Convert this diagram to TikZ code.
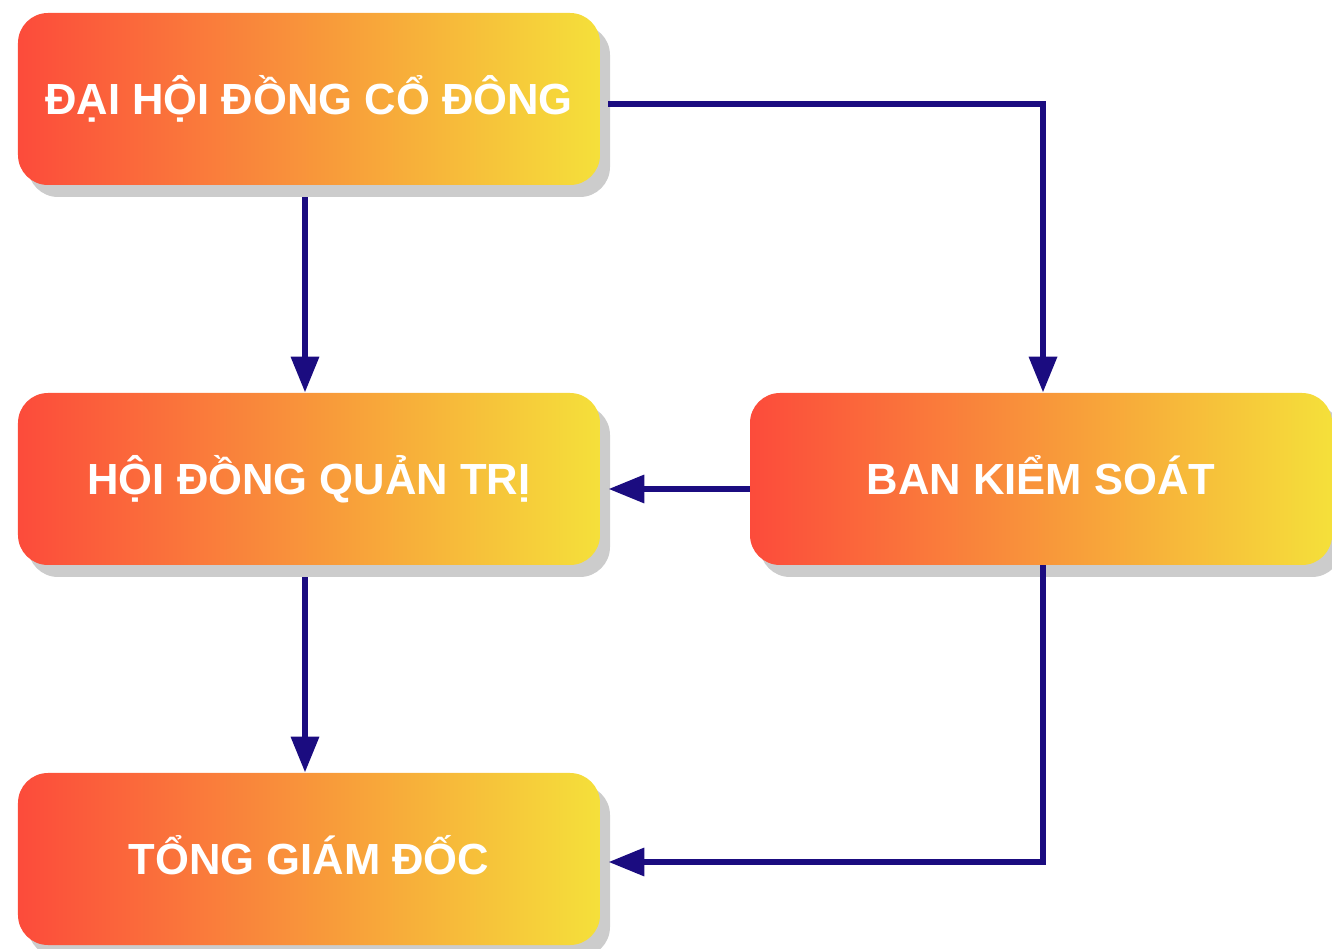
\documentclass[tikz,border=0pt]{standalone}
\usepackage{fontspec}
\setmainfont{Liberation Sans}
\usepackage{tikz}
\usetikzlibrary{arrows.meta, positioning, calc, shadows}
\definecolor{orgred}{HTML}{FC4B3B}
\definecolor{orgorange}{HTML}{F8A23C}
\definecolor{orgyellow}{HTML}{F5E03A}
\definecolor{orgnavy}{HTML}{1B0C80}
\definecolor{orgshadow}{HTML}{CCCCCC}

\tikzset{
  orgbox/.style={rounded corners=0.6cm, minimum width=11.64cm, minimum height=3.44cm, inner sep=0pt,
    text height=0.62cm, text depth=0pt,
    left color=orgred, middle color=orgorange, right color=orgyellow,
    drop shadow={shadow xshift=0.2cm, shadow yshift=-0.24cm, fill=orgshadow, opacity=1},
    text=white, font=\fontsize{24.8}{24.8}\selectfont\bfseries},
  link/.style={orgnavy, line width=0.13cm, -{Triangle[length=0.72cm, width=0.54cm]}}
}

\begin{document}
\begin{tikzpicture}
  \useasboundingbox (0,0) rectangle (26.64,18.96);

  % Boxes
  \node[orgbox] (dhdcd) at (6.18, 16.98) {ĐẠI HỘI ĐỒNG CỔ ĐÔNG};
  \node[orgbox] (hdqt) at (6.18, 9.38) {HỘI ĐỒNG QUẢN TRỊ};
  \node[orgbox] (tgd) at (6.18, 1.78) {TỔNG GIÁM ĐỐC};
  \node[orgbox] (bks) at (20.82, 9.38) {BAN KIỂM SOÁT};

  % Connectors
  \draw[link] ([xshift=0.16cm, yshift=-0.1cm]dhdcd.east) -| ([xshift=0.04cm]bks.north);
  \draw[link] ([xshift=-0.08cm, yshift=-0.24cm]dhdcd.south) -- ([xshift=-0.08cm]hdqt.north);
  \draw[link] ([yshift=-0.2cm]bks.west) -- ([xshift=0.16cm, yshift=-0.2cm]hdqt.east);
  \draw[link] ([xshift=-0.08cm, yshift=-0.24cm]hdqt.south) -- ([xshift=-0.08cm]tgd.north);
  \draw[link] ([xshift=0.04cm]bks.south) |- ([xshift=0.16cm, yshift=-0.06cm]tgd.east);
\end{tikzpicture}
\end{document}
